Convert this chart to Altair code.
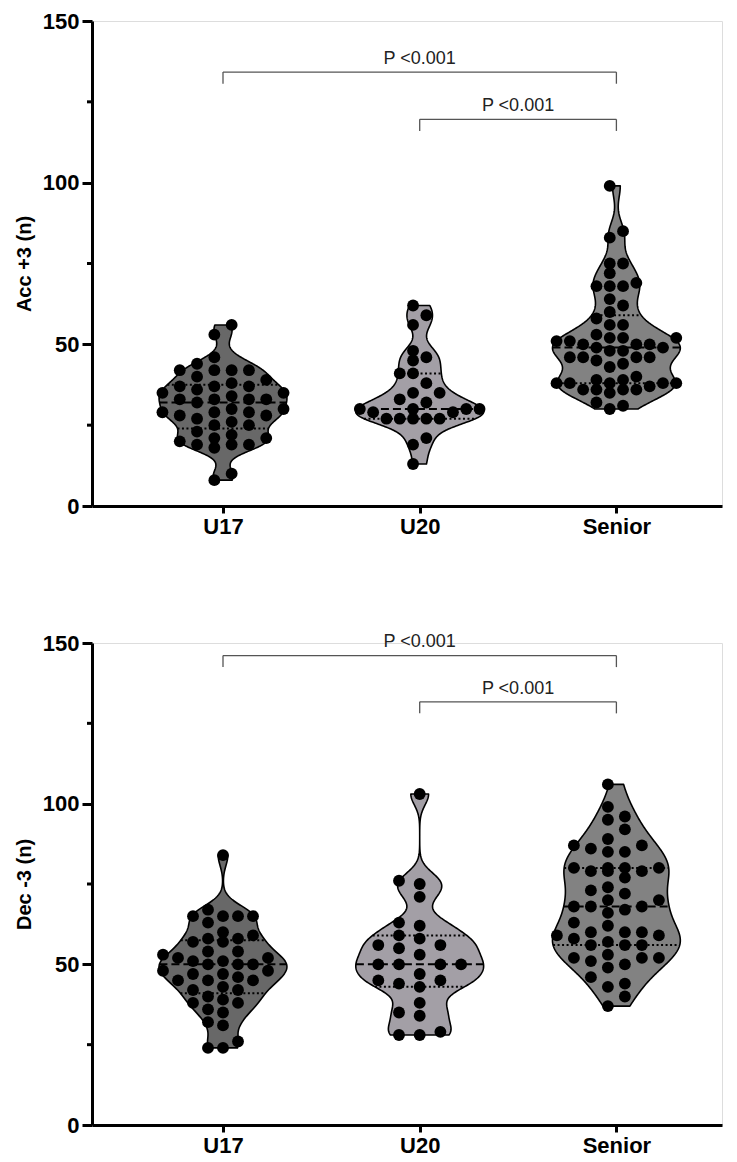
import numpy as np
import pandas as pd
import altair as alt

# ---------------- data ----------------
GROUPS = ["U17", "U20", "Senior"]

acc_u17 = [56, 53, 46, 44, 42, 42, 42, 42, 40, 39, 38, 37, 37, 37, 36, 35, 35, 34,
           33, 33, 33, 33, 32, 30, 30, 29, 29, 29, 28, 28, 27, 26, 25, 25, 23, 22,
           21, 21, 20, 19, 19, 19, 18, 10, 8]
acc_u20 = [62, 59, 56, 48, 46, 45, 41, 41, 38, 35, 35, 33, 32, 30, 30, 30, 30, 29, 29,
           27, 27, 27, 27, 27, 21, 19, 13]
acc_senior = [99, 85, 83, 75, 75, 72, 69, 68, 68, 68, 64, 62, 60, 58, 56, 56, 53, 52,
              52, 52, 51, 51, 50, 50, 50, 49, 49, 48, 48, 46, 46, 46, 46, 45, 44, 43,
              40, 39, 39, 38, 38, 38, 38, 38, 37, 36, 36, 36, 36, 35, 32, 31, 30]

dec_u17 = [84, 67, 65, 65, 65, 65, 63, 60, 58, 58, 59, 57, 57, 54, 54, 53, 52, 52, 51,
           50, 51, 50, 50, 48, 48, 47, 46, 47, 45, 45, 45, 43, 42, 42, 40, 38, 38, 39,
           36, 35, 32, 31, 26, 24, 24]
dec_u20 = [103, 76, 75, 71, 63, 62, 59, 58, 56, 56, 55, 53, 50, 50, 50, 50, 47, 45, 45,
           44, 43, 38, 35, 34, 29, 28, 28]
dec_senior = [106, 99, 96, 95, 92, 89, 87, 87, 86, 85, 85, 80, 80, 80, 80, 79, 79, 79,
              77, 74, 73, 72, 70, 70, 68, 68, 68, 67, 66, 63, 62, 60, 60, 60, 59, 59,
              58, 57, 56, 56, 56, 53, 52, 52, 52, 51, 50, 49, 46, 44, 43, 40, 37]

y_titles = ["Acc +3 (n)", "Dec -3 (n)"]
y_ticks = [0, 50, 100, 150]
y_minor = [25, 75, 125]

bracket_from = ["U17", "U20"]
bracket_to = ["Senior", "Senior"]
acc_bracket_y = [134.2, 119.6]
dec_bracket_y = [146.1, 131.7]
p_labels = ["P <0.001", "P <0.001"]

# ---------------- style ----------------
FILLS = ["#686868", "#a39fa6", "#828282"]
FONT = "Liberation Sans"
PX_PER_X = 196.7
PLOT_W = 630
X0 = 1 - 131 / PX_PER_X
X1 = X0 + PLOT_W / PX_PER_X
HALF_W = 0.325           # max half-width of a violin in x units
BW_FACTOR = [[0.75, 0.65, 0.65], [0.7, 0.65, 0.8]]
DOT_SIZE = 140
SAME_COL_GAP = 3.5       # value units between dots sharing a column
# column spacing (px) and grid type per group, per panel
SLOT_PX = [[17.3, 13.3, 13.3], [15.0, 20.7, 17.0]]
SLOT_HALF = [[True, True, True], [False, False, True]]


def kde_width(vals, grid, factor):
    v = np.asarray(vals, float)
    n = len(v)
    q75, q25 = np.percentile(v, [75, 25])
    s = min(v.std(ddof=1), (q75 - q25) / 1.34)
    h = factor * 0.9 * s * n ** (-0.2)
    return np.exp(-0.5 * ((grid[None, :] - v[:, None]) / h) ** 2).sum(0)


def swarm(vals, spacing, half, grid, w):
    """Column-slot dot layout kept inside the violin outline."""
    vals = np.asarray(vals, float)
    order = np.argsort(vals, kind="stable")
    if half:
        cands = [s for k in range(15) for s in (-(k + 0.5), k + 0.5)]
    else:
        cands = [0.0] + [s for k in range(1, 15) for s in (-k, k)]
    placed = {}
    xs = np.zeros(len(vals))
    for i in order:
        v = vals[i]
        lim = float(np.interp(v, grid, w)) + 0.35 * spacing
        allowed = [s for s in cands if abs(s) * spacing <= lim] or cands[:1 if not half else 2]
        chosen = None
        for s in allowed:
            if all(abs(v - u) >= SAME_COL_GAP for u in placed.get(s, [])):
                chosen = s
                break
        if chosen is None:
            best = -1
            for s in allowed:
                gap = min([abs(v - u) for u in placed.get(s, [])] or [99])
                if gap > best:
                    best, chosen = gap, s
        placed.setdefault(chosen, []).append(v)
        xs[i] = chosen * spacing
    return xs


def build_panel(series, title, br_y, pidx):
    vrows, prow, qrows = [], [], []
    for gi, (g, vals) in enumerate(zip(GROUPS, series)):
        pos = gi + 1
        vals = np.asarray(vals, float)
        grid = np.linspace(vals.min(), vals.max(), 260)
        d = kde_width(vals, grid, BW_FACTOR[pidx][gi])
        w = d / d.max() * HALF_W
        for yy, ww in zip(grid, w):
            vrows.append({"group": g, "y": yy, "xl": pos - ww, "xr": pos + ww})
        xs = swarm(vals, SLOT_PX[pidx][gi] / PX_PER_X, SLOT_HALF[pidx][gi], grid, w)
        for v, dx in zip(vals, xs):
            prow.append({"group": g, "y": v, "x": pos + dx})
        q1, med, q3 = np.percentile(vals, [25, 50, 75], method="weibull")
        for kind, qv in (("q", q1), ("m", med), ("q", q3)):
            ww = float(np.interp(qv, grid, w))
            qrows.append({"group": g, "kind": kind, "y": qv, "xl": pos - ww, "xr": pos + ww})

    vdf = pd.DataFrame(vrows)
    pdf = pd.DataFrame(prow)
    qdf = pd.DataFrame(qrows)

    pos_of = {g: i + 1 for i, g in enumerate(GROUPS)}
    hrows, drows, trows = [], [], []
    for a, b, yy, lab in zip(bracket_from, bracket_to, br_y, p_labels):
        xa, xb = pos_of[a], pos_of[b]
        hrows.append({"x": xa, "x2": xb, "y": yy})
        drows.append({"x": xa, "y": yy, "y2": yy - 3.6})
        drows.append({"x": xb, "y": yy, "y2": yy - 3.6})
        trows.append({"x": (xa + xb) / 2, "y": yy + 2.5, "label": lab})
    hdf, ddf, tdf = pd.DataFrame(hrows), pd.DataFrame(drows), pd.DataFrame(trows)
    mdf = pd.DataFrame({"y": y_minor})

    xs = alt.Scale(domain=[X0, X1], nice=False, zero=False)
    ys = alt.Scale(domain=[0, 150], nice=False, zero=False)
    label_expr = "['', 'U17', 'U20', 'Senior'][datum.value]"
    x_axis = alt.Axis(values=[1, 2, 3], labelExpr=label_expr, title=None, grid=False,
                      domainColor="black", domainWidth=3, tickColor="black", tickWidth=3,
                      tickSize=7, labelFont=FONT, labelFontSize=22, labelFontWeight="bold",
                      labelColor="black", labelPadding=3)
    y_axis = alt.Axis(values=y_ticks, title=title, grid=False, domainColor="black",
                      domainWidth=3, tickColor="black", tickWidth=3, tickSize=10,
                      labelFont=FONT, labelFontSize=22, labelFontWeight="bold",
                      labelColor="black", labelPadding=3, titleFont=FONT,
                      titleFontSize=20, titleFontWeight="bold", titleColor="black",
                      titlePadding=8)

    X = lambda f: alt.X(f, scale=xs, axis=x_axis)
    Y = lambda f: alt.Y(f, scale=ys, axis=y_axis)

    violins = alt.Chart(vdf).mark_area(orient="horizontal", stroke="black", strokeWidth=1.6,
                                       strokeJoin="round").encode(
        y=Y("y:Q"), x=alt.X("xl:Q", scale=xs, axis=x_axis, stack=None), x2="xr:Q",
        fill=alt.Fill("group:N", scale=alt.Scale(domain=GROUPS, range=FILLS), legend=None),
        detail="group:N")
    quart = alt.Chart(qdf).transform_filter("datum.kind == 'q'").mark_rule(
        color="black", strokeWidth=2, strokeDash=[2, 2.5]).encode(
        y=Y("y:Q"), x=X("xl:Q"), x2="xr:Q")
    med = alt.Chart(qdf).transform_filter("datum.kind == 'm'").mark_rule(
        color="black", strokeWidth=2, strokeDash=[8, 4]).encode(
        y=Y("y:Q"), x=X("xl:Q"), x2="xr:Q")
    dots = alt.Chart(pdf).mark_circle(size=DOT_SIZE, color="black", opacity=1).encode(
        x=X("x:Q"), y=Y("y:Q"))
    hlines = alt.Chart(hdf).mark_rule(color="#555555", strokeWidth=1.3).encode(
        x=X("x:Q"), x2="x2:Q", y=Y("y:Q"))
    vlines = alt.Chart(ddf).mark_rule(color="#555555", strokeWidth=1.3).encode(
        x=X("x:Q"), y=Y("y:Q"), y2="y2:Q")
    texts = alt.Chart(tdf).mark_text(font=FONT, fontSize=18, color="#222222",
                                     baseline="alphabetic", align="center").encode(
        x=X("x:Q"), y=Y("y:Q"), text="label:N")
    minor = alt.Chart(mdf).mark_rule(color="black", strokeWidth=3).encode(
        y=Y("y:Q"), x=alt.value(-5), x2=alt.value(0))

    return alt.layer(violins, quart, med, dots, hlines, vlines, texts, minor).properties(
        width=PLOT_W, height=485)


top = build_panel([acc_u17, acc_u20, acc_senior], y_titles[0], acc_bracket_y, 0)
bottom = build_panel([dec_u17, dec_u20, dec_senior], y_titles[1], dec_bracket_y, 1)
bottom = bottom.properties(height=482)

chart = alt.vconcat(top, bottom, spacing=93).properties(
    padding={"left": 5, "top": 1, "right": 5, "bottom": 0}
).configure_view(stroke=None).configure(background="white")

chart.save("out.html", embed_options={"renderer": "svg", "actions": False})
